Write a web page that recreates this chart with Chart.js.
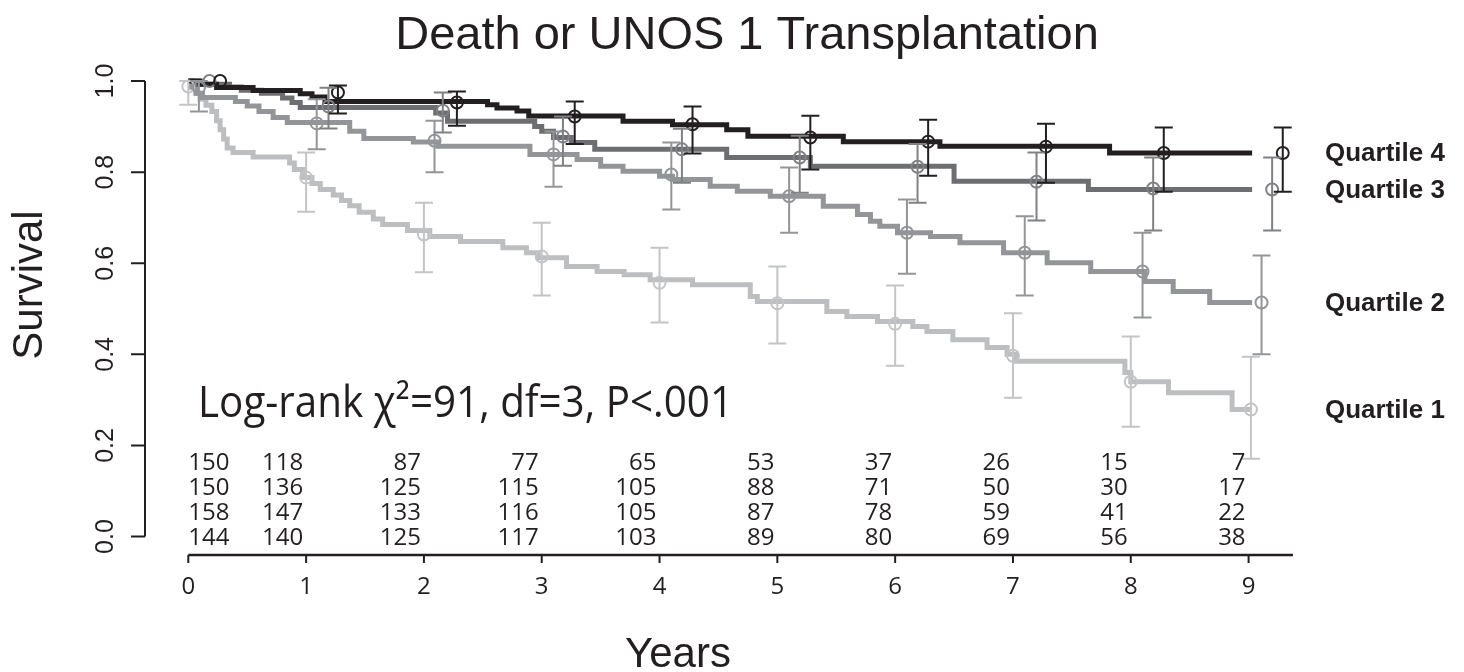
<!DOCTYPE html>
<html>
<head>
<meta charset="utf-8">
<script src="https://cdn.jsdelivr.net/npm/chart.js@4.4.1/dist/chart.umd.min.js"></script>
<style>
  html, body { margin: 0; padding: 0; background: #fff; }
  #wrap { width: 1464px; height: 672px; }
</style>
</head>
<body>
<div id="wrap"><canvas id="km" width="1464" height="672"></canvas></div>
<script>
// ---- values ----
const yearTicks = [0, 1, 2, 3, 4, 5, 6, 7, 8, 9];
const survTicks = [0, 0.2, 0.4, 0.6, 0.8, 1.0];
const survTickLabels = ['0.0', '0.2', '0.4', '0.6', '0.8', '1.0'];
const groupNames = ['Quartile 1', 'Quartile 2', 'Quartile 3', 'Quartile 4'];

// Kaplan-Meier step curves (time in years, survival after each step)
const q1Times = [0, 0.02, 0.06, 0.1, 0.15, 0.2, 0.24, 0.27, 0.3, 0.33, 0.38, 0.55, 0.86, 0.9, 0.97, 1.05, 1.12, 1.23, 1.3, 1.37, 1.45, 1.57, 1.65, 1.86, 2.05, 2.31, 2.67, 2.87, 2.97, 3.21, 3.47, 3.7, 3.92, 4.28, 4.77, 4.83, 5.42, 5.59, 5.85, 6.15, 6.27, 6.49, 6.78, 6.95, 7.03, 7.95, 8.0, 8.32, 8.86, 9.02];
const q1Surv  = [1.0, 0.987, 0.973, 0.96, 0.947, 0.933, 0.913, 0.893, 0.873, 0.853, 0.843, 0.833, 0.82, 0.806, 0.788, 0.775, 0.762, 0.75, 0.738, 0.726, 0.712, 0.697, 0.685, 0.672, 0.659, 0.648, 0.634, 0.623, 0.612, 0.593, 0.582, 0.575, 0.564, 0.553, 0.527, 0.516, 0.494, 0.483, 0.472, 0.461, 0.45, 0.432, 0.415, 0.4, 0.385, 0.36, 0.34, 0.316, 0.279, 0.279];

const q2Times = [0, 0.03, 0.07, 0.12, 0.4, 0.5, 0.6, 0.72, 0.84, 1.37, 1.49, 1.91, 2.12, 2.9, 3.3, 3.5, 3.69, 4.0, 4.11, 4.43, 4.66, 4.94, 5.39, 5.68, 5.79, 5.87, 6.02, 6.3, 6.55, 6.92, 7.29, 7.66, 8.12, 8.36, 8.67, 9.03];
const q2Surv  = [1.0, 0.987, 0.973, 0.964, 0.955, 0.945, 0.933, 0.92, 0.909, 0.89, 0.874, 0.866, 0.857, 0.839, 0.828, 0.813, 0.802, 0.791, 0.784, 0.769, 0.758, 0.747, 0.725, 0.707, 0.692, 0.681, 0.667, 0.659, 0.645, 0.623, 0.601, 0.582, 0.56, 0.538, 0.514, 0.514];

const q3Times = [0, 0.08, 0.35, 0.45, 0.62, 0.8, 0.88, 0.95, 2.1, 2.2, 2.94, 3.0, 3.1, 3.25, 3.45, 4.57, 5.28, 6.5, 7.64, 9.03];
const q3Surv  = [1.0, 0.993, 0.987, 0.98, 0.973, 0.963, 0.953, 0.942, 0.93, 0.912, 0.9, 0.89, 0.876, 0.865, 0.85, 0.832, 0.813, 0.78, 0.762, 0.762];

const q4Times = [0, 0.1, 0.24, 0.55, 0.95, 1.05, 1.16, 2.54, 2.62, 2.79, 2.89, 3.69, 4.11, 4.57, 4.75, 5.56, 6.38, 7.82, 9.03];
const q4Surv  = [1.0, 0.993, 0.986, 0.979, 0.972, 0.965, 0.955, 0.948, 0.941, 0.934, 0.923, 0.912, 0.904, 0.893, 0.879, 0.867, 0.857, 0.842, 0.842];

// yearly markers with confidence limits
const q1MarkTimes = [0, 1, 2, 3, 4, 5, 6, 7, 8, 9.02];
const q1MarkSurv  = [0.988, 0.788, 0.663, 0.615, 0.557, 0.512, 0.467, 0.397, 0.340, 0.279];
const q1Lower     = [0.948, 0.713, 0.580, 0.529, 0.470, 0.424, 0.375, 0.305, 0.241, 0.171];
const q1Upper     = [1.0, 0.843, 0.733, 0.689, 0.634, 0.593, 0.551, 0.490, 0.439, 0.395];

const q2MarkTimes = [0.09, 1.09, 2.09, 3.1, 4.1, 5.1, 6.1, 7.1, 8.1, 9.11];
const q2MarkSurv  = [0.985, 0.907, 0.869, 0.839, 0.795, 0.747, 0.667, 0.623, 0.582, 0.514];
const q2Lower     = [0.933, 0.850, 0.800, 0.768, 0.718, 0.667, 0.577, 0.529, 0.481, 0.400];
const q2Upper     = [1.0, 0.960, 0.913, 0.889, 0.865, 0.810, 0.740, 0.703, 0.667, 0.617];

const q3MarkTimes = [0.18, 1.19, 2.16, 3.18, 4.19, 5.19, 6.19, 7.2, 8.19, 9.2];
const q3MarkSurv  = [1.0, 0.944, 0.935, 0.878, 0.850, 0.832, 0.812, 0.779, 0.764, 0.762];
const q3Lower     = [1.0, 0.896, 0.887, 0.814, 0.777, 0.755, 0.733, 0.694, 0.672, 0.672];
const q3Upper     = [1.0, 0.985, 0.975, 0.922, 0.895, 0.880, 0.862, 0.843, 0.832, 0.832];

const q4MarkTimes = [0.27, 1.27, 2.28, 3.28, 4.28, 5.28, 6.28, 7.28, 8.28, 9.29];
const q4MarkSurv  = [1.0, 0.975, 0.953, 0.922, 0.905, 0.876, 0.867, 0.856, 0.842, 0.842];
const q4Lower     = [1.0, 0.929, 0.902, 0.862, 0.841, 0.806, 0.792, 0.777, 0.757, 0.757];
const q4Upper     = [1.0, 0.990, 0.977, 0.955, 0.944, 0.924, 0.915, 0.906, 0.898, 0.898];

// numbers at risk, one row per quartile (top row = Quartile 1)
const riskQ1 = [150, 118, 87, 77, 65, 53, 37, 26, 15, 7];
const riskQ2 = [150, 136, 125, 115, 105, 88, 71, 50, 30, 17];
const riskQ3 = [158, 147, 133, 116, 105, 87, 78, 59, 41, 22];
const riskQ4 = [144, 140, 125, 117, 103, 89, 80, 69, 56, 38];

const logRankText = 'Log-rank \u03c7\u00b2=91, df=3, P<.001';

// ---- styling ----
const colors = ['#bcbec0', '#939598', '#6d6e71', '#231f20'];
const ebColors = ['#c2c4c6', '#939598', '#808184', '#231f20'];
const ink = '#231f20';
const sansR = '"Liberation Sans", Arial, Helvetica, sans-serif';
const sansM = '"Open Sans", "Noto Sans", sans-serif';

function pts(xs, ys) {
    return xs.map((x, i) => ({ x: x, y: ys[i] }));
}

const curves = [[q1Times, q1Surv], [q2Times, q2Surv], [q3Times, q3Surv], [q4Times, q4Surv]];
const markers = [
    [q1MarkTimes, q1MarkSurv, q1Lower, q1Upper],
    [q2MarkTimes, q2MarkSurv, q2Lower, q2Upper],
    [q3MarkTimes, q3MarkSurv, q3Lower, q3Upper],
    [q4MarkTimes, q4MarkSurv, q4Lower, q4Upper]
];
const riskRows = [riskQ1, riskQ2, riskQ3, riskQ4];

const datasets = [];
curves.forEach((c, g) => {
    datasets.push({
        label: groupNames[g],
        data: pts(c[0], c[1]),
        stepped: 'before',
        borderColor: colors[g],
        borderWidth: 5,
        pointRadius: 0,
        fill: false,
        borderJoinStyle: 'miter',
        order: 8 - g
    });
});
markers.forEach((m, g) => {
    datasets.push({
        label: groupNames[g] + ' marks',
        data: pts(m[0], m[1]),
        showLine: false,
        pointStyle: 'circle',
        pointRadius: 6,
        pointBorderWidth: 2,
        pointBorderColor: ebColors[g],
        pointBackgroundColor: 'rgba(0,0,0,0)',
        order: 4 - g
    });
});

// R-style axes, error bars and annotations
const kmDecor = {
    id: 'kmDecor',
    afterDatasetsDraw(chart) {
        const ctx = chart.ctx;
        const xs = chart.scales.x, ys = chart.scales.y;
        ctx.save();
        ctx.lineWidth = 2;
        markers.forEach((m, g) => {
            ctx.strokeStyle = ebColors[g];
            m[0].forEach((t, i) => {
                if (m[3][i] - m[2][i] < 0.001) return;
                const px = xs.getPixelForValue(t);
                const lo = ys.getPixelForValue(m[2][i]);
                const hi = ys.getPixelForValue(m[3][i]);
                ctx.beginPath();
                ctx.moveTo(px, lo); ctx.lineTo(px, hi);
                ctx.moveTo(px - 9, lo); ctx.lineTo(px + 9, lo);
                ctx.moveTo(px - 9, hi); ctx.lineTo(px + 9, hi);
                ctx.stroke();
            });
        });
        ctx.restore();
    },
    afterDraw(chart) {
        const ctx = chart.ctx;
        const xs = chart.scales.x, ys = chart.scales.y;
        const area = chart.chartArea;
        ctx.save();
        ctx.fillStyle = ink;
        ctx.strokeStyle = ink;

        // y axis
        ctx.lineWidth = 2;
        const y0 = ys.getPixelForValue(0), y1 = ys.getPixelForValue(1);
        ctx.beginPath();
        ctx.moveTo(area.left, y0); ctx.lineTo(area.left, y1);
        survTicks.forEach(v => {
            const py = ys.getPixelForValue(v);
            ctx.moveTo(area.left, py); ctx.lineTo(area.left - 14, py);
        });
        ctx.stroke();
        ctx.font = '25px ' + sansR;
        ctx.textAlign = 'center';
        ctx.textBaseline = 'alphabetic';
        survTicks.forEach((v, i) => {
            const py = ys.getPixelForValue(v);
            ctx.save();
            ctx.translate(113, py);
            ctx.rotate(-Math.PI / 2);
            ctx.fillText(survTickLabels[i], 0, 0);
            ctx.restore();
        });

        // x axis
        ctx.lineWidth = 2.5;
        const xb = area.bottom;
        ctx.beginPath();
        ctx.moveTo(xs.getPixelForValue(0), xb); ctx.lineTo(area.right, xb);
        ctx.stroke();
        ctx.lineWidth = 2;
        ctx.beginPath();
        yearTicks.forEach(v => {
            const px = xs.getPixelForValue(v);
            ctx.moveTo(px, xb); ctx.lineTo(px, xb + 8);
        });
        ctx.stroke();
        ctx.font = '24px ' + sansM;
        ctx.textAlign = 'center';
        yearTicks.forEach(v => {
            ctx.fillText(String(v), xs.getPixelForValue(v), 594);
        });

        // numbers at risk
        riskRows.forEach((row, r) => {
            const base = y0 + 8 - 25 * (3 - r);
            row.forEach((n, k) => {
                const px = xs.getPixelForValue(yearTicks[k]);
                if (k === 0) {
                    ctx.textAlign = 'left';
                    ctx.fillText(String(n), px, base);
                } else {
                    ctx.textAlign = 'right';
                    ctx.fillText(String(n), px - 3, base);
                }
            });
        });

        // log-rank annotation
        ctx.font = '43px ' + sansM;
        ctx.textAlign = 'left';
        const w = ctx.measureText(logRankText).width;
        ctx.save();
        ctx.translate(198, 417);
        ctx.scale(535 / w, 1);
        ctx.fillText(logRankText, 0, 0);
        ctx.restore();

        // group labels at the final survival of each curve
        ctx.font = 'bold 26px ' + sansR;
        ctx.textAlign = 'left';
        ctx.textBaseline = 'middle';
        curves.forEach((c, g) => {
            const last = c[1][c[1].length - 1];
            ctx.fillText(groupNames[g], 1325, ys.getPixelForValue(last) + 1);
        });

        // titles
        ctx.textBaseline = 'alphabetic';
        ctx.textAlign = 'center';
        ctx.font = '47px ' + sansR;
        ctx.fillText('Death or UNOS 1 Transplantation', 747, 49);
        ctx.font = '42px ' + sansR;
        ctx.fillText('Years', 678, 667);
        ctx.save();
        ctx.translate(42, 285);
        ctx.rotate(-Math.PI / 2);
        ctx.fillText('Survival', 0, 0);
        ctx.restore();

        ctx.restore();
    }
};

new Chart(document.getElementById('km'), {
    type: 'line',
    data: { datasets: datasets },
    options: {
        responsive: false,
        animation: false,
        devicePixelRatio: 1,
        layout: { padding: { left: 145, right: 171, top: 63, bottom: 117 } },
        plugins: {
            legend: { display: false },
            tooltip: { enabled: false },
            title: { display: false }
        },
        scales: {
            x: { type: 'linear', min: -0.3676, max: 9.377, display: false },
            y: { type: 'linear', min: -0.0404, max: 1.0396, display: false }
        }
    },
    plugins: [kmDecor]
});
</script>
</body>
</html>
